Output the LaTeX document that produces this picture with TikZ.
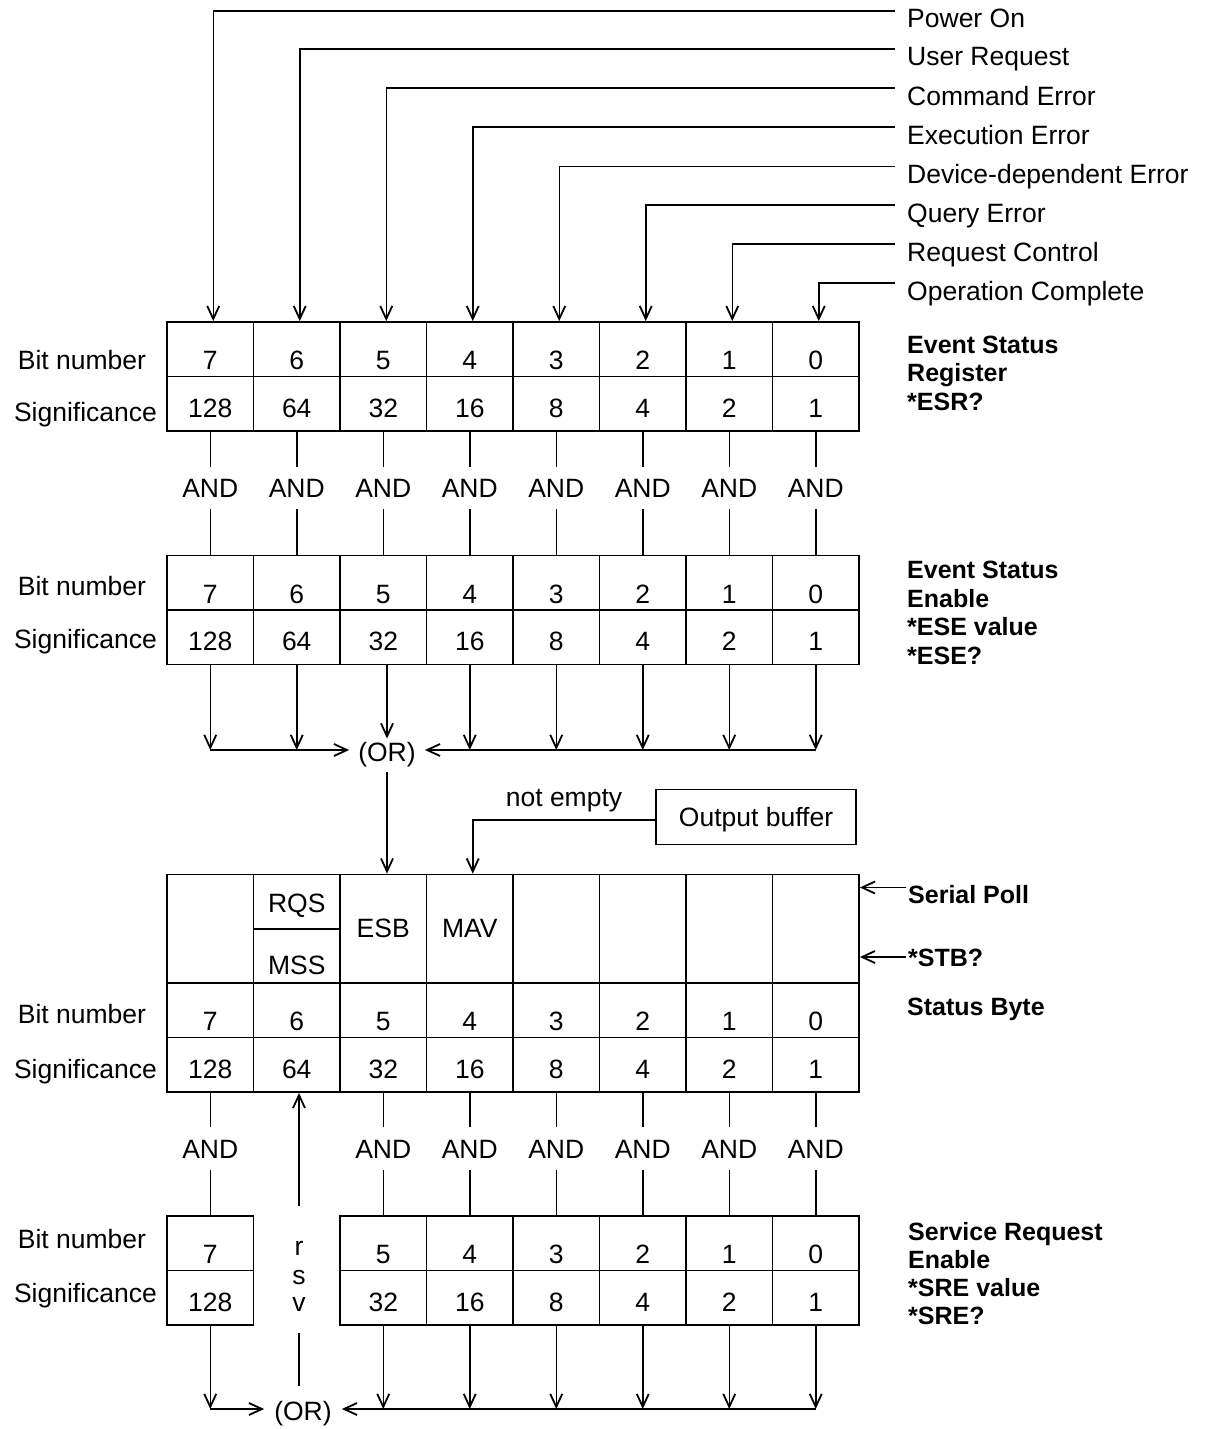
\documentclass[tikz,border=0pt]{standalone}
\usepackage{fontspec}
\setmainfont{Liberation Sans}
\usetikzlibrary{arrows.meta,calc}
\newcommand\regf{\fontsize{26.5}{30}\selectfont}
\newcommand\boldf{\fontsize{25}{28.5}\selectfont\bfseries}
\begin{document}
\begin{tikzpicture}[x=1pt,y=-1pt,
  cell/.style={draw,line width=1.8pt,minimum width=86.5pt,inner sep=0pt,font=\regf},
  bitcell/.style={cell,minimum height=54.5pt,text height=40.5pt,text depth=0pt},
  sigcell/.style={cell,minimum height=54.5pt,text height=26.5pt,text depth=0pt},
  namecell/.style={cell,minimum height=108.5pt,text height=17pt,text depth=0pt},
  conn/.style={line width=1.5pt},
  arr/.style={conn,-{Straight Barb[length=13pt,width=12pt,line width=1.8pt]}},
  andn/.style={font=\regf,inner xsep=0pt,inner ysep=11.5pt,text height=19pt,text depth=0pt},
  ornode/.style={font=\regf,inner xsep=9pt,inner ysep=0pt,text height=22.6pt,text depth=0pt},
  llbl/.style={font=\regf,anchor=base,inner sep=0pt},
  rlbl/.style={font=\boldf,anchor=base west,inner sep=0pt},
  toplbl/.style={font=\regf,anchor=west,inner xsep=12pt,inner ysep=0pt,text height=34pt,text depth=0pt}
]
\fill[white] (0,0) rectangle (1211,1429);
\useasboundingbox (0,0) rectangle (1211,1429);

% ---------- Event Status Register ----------
\foreach \k/\b/\s in {0/7/128,1/6/64,2/5/32,3/4/16,4/3/8,5/2/4,6/1/2,7/0/1}{
  \pgfmathsetmacro\x{210.25+86.5*\k}
  \node[bitcell] (ra\k) at (\x,349.25) {\b};
  \node[sigcell] (rb\k) at (\x,403.75) {\s};
  \node[andn] (aa\k) at (\x,488) {AND};
  \node[bitcell] (rc\k) at (\x,582.75) {\b};
  \node[sigcell] (rd\k) at (\x,637.25) {\s};
  \coordinate (hb\k) at (\x,750);
}
% inputs
\foreach \k/\t/\L in {0/Power On/11,1/User Request/49,2/Command Error/88,3/Execution Error/127,4/Device-dependent Error/166.5,5/Query Error/205,6/Request Control/244,7/Operation Complete/283}{
  \node[toplbl] (t\k) at (895,\L) {\t};
  \draw[arr] (t\k.west) -| ([xshift=3pt]ra\k.north);
}
% AND links
\foreach \k in {0,...,7}{
  \draw[conn] (rb\k.south) -- (aa\k.north);
  \draw[conn] (aa\k.south) -- (rc\k.north);
}
% labels
\node[llbl] (bn1) at (82,369.5) {Bit number};
\node[llbl] (sg1) at (85.5,421.5) {Significance};
\node[rlbl] (esr1) at (907,353) {Event Status};
\node[rlbl] (esr2) at (907,381.75) {Register};
\node[rlbl] (esr3) at (907,410.5) {*ESR?};

\node[llbl] (bn2) at (82,595.5) {Bit number};
\node[llbl] (sg2) at (85.5,648.5) {Significance};
\node[rlbl] (ese1) at (907,578.5) {Event Status};
\node[rlbl] (ese2) at (907,607.2) {Enable};
\node[rlbl] (ese3) at (907,635.8) {*ESE value};
\node[rlbl] (ese4) at (907,664.5) {*ESE?};

% OR of ESE
\node[ornode] (OR1) at (387,750) {(OR)};
\foreach \k in {0,1,3,4,5,6,7}{
  \draw[arr] (rd\k.south) -- (hb\k);
}
\draw[arr] (rd2.south -| OR1.north) -- (OR1.north);
\draw[arr] (hb0) -- (OR1.west);
\draw[arr] (hb7) -- (OR1.east);

% ---------- Status Byte ----------
\node[namecell] (sn0) at (210.25,928.75) {};
\node[cell,minimum height=54.25pt,text height=21.8pt,text depth=0pt] (rqs) at (296.75,901.6) {RQS};
\node[cell,minimum height=54.25pt,text height=37pt,text depth=0pt] (mss) at (296.75,955.9) {MSS};
\node[namecell] (sn2) at (383.25,928.75) {ESB};
\node[namecell] (sn3) at (469.75,928.75) {MAV};
\foreach \k in {4,5,6,7}{
  \pgfmathsetmacro\x{210.25+86.5*\k}
  \node[namecell] (sn\k) at (\x,928.75) {};
}
\foreach \k/\b/\s in {0/7/128,1/6/64,2/5/32,3/4/16,4/3/8,5/2/4,6/1/2,7/0/1}{
  \pgfmathsetmacro\x{210.25+86.5*\k}
  \node[bitcell] (sb\k) at (\x,1010.25) {\b};
  \node[sigcell] (ss\k) at (\x,1064.75) {\s};
}
\node[llbl] (bn3) at (82,1023.5) {Bit number};
\node[llbl] (sg3) at (85.5,1078.5) {Significance};

\draw[arr] ([yshift=-10pt]OR1.south) -- (OR1.south |- sn2.north);

\node[llbl] (ne) at (564,806) {not empty};
\node[draw,line width=1.8pt,minimum width=200pt,minimum height=55pt,inner sep=0pt,
      text height=19pt,text depth=0pt,font=\regf] (ob) at (756,817) {Output buffer};
\draw[arr] ([yshift=-3pt]ob.west) -| ([xshift=3pt]sn3.north);

\node[font=\boldf,anchor=west,inner xsep=2pt,inner ysep=0pt,text height=31.8pt,text depth=0pt] (sp) at (906,887.5) {Serial Poll};
\node[font=\boldf,anchor=west,inner xsep=2pt,inner ysep=0pt,text height=18pt,text depth=0pt] (stb) at (906,957) {*STB?};
\node[rlbl] (sbyte) at (907,1015) {Status Byte};
\draw[arr] (sp.west) -- (sp.west -| sn7.east);
\draw[arr] (stb.west) -- (stb.west -| sn7.east);

% ---------- Service Request Enable ----------
\node[bitcell] (sr0) at (210.25,1243.25) {7};
\node[sigcell] (sq0) at (210.25,1297.75) {128};
\foreach \k/\b/\s in {2/5/32,3/4/16,4/3/8,5/2/4,6/1/2,7/0/1}{
  \pgfmathsetmacro\x{210.25+86.5*\k}
  \node[bitcell] (sr\k) at (\x,1243.25) {\b};
  \node[sigcell] (sq\k) at (\x,1297.75) {\s};
}
\foreach \k in {0,2,3,4,5,6,7}{
  \pgfmathsetmacro\x{210.25+86.5*\k}
  \node[andn] (ab\k) at (\x,1148.5) {AND};
  \draw[conn] (ss\k.south) -- (ab\k.north);
  \draw[conn] (ab\k.south) -- (sr\k.north);
  \coordinate (bb\k) at (\x,1409);
  \draw[arr] (sq\k.south) -- (bb\k);
}
\node[llbl] (bn4) at (82,1248.5) {Bit number};
\node[llbl] (sg4) at (85.5,1302.5) {Significance};
\node[rlbl] (sre1) at (908,1240) {Service Request};
\node[rlbl] (sre2) at (908,1268.2) {Enable};
\node[rlbl] (sre3) at (908,1296.3) {*SRE value};
\node[rlbl] (sre4) at (908,1324.5) {*SRE?};

% rsv
\node[llbl] (rsvr) at (299,1255) {r};
\node[llbl] (rsvs) at (299,1284) {s};
\node[llbl] (rsvv) at (299,1311) {v};
\coordinate (rsvtop) at (299,1206);
\coordinate (rsvb1) at (299,1333);
\coordinate (rsvb2) at (299,1386);
\draw[arr] (rsvtop) -- (rsvtop |- ss1.south);
\draw[conn] (rsvb1) -- (rsvb2);

% OR of SRE
\node[ornode,inner xsep=10pt] (OR2) at (303,1409) {(OR)};
\draw[arr] (bb0) -- (OR2.west);
\draw[arr] (bb7) -- (OR2.east);
\end{tikzpicture}
\end{document}
